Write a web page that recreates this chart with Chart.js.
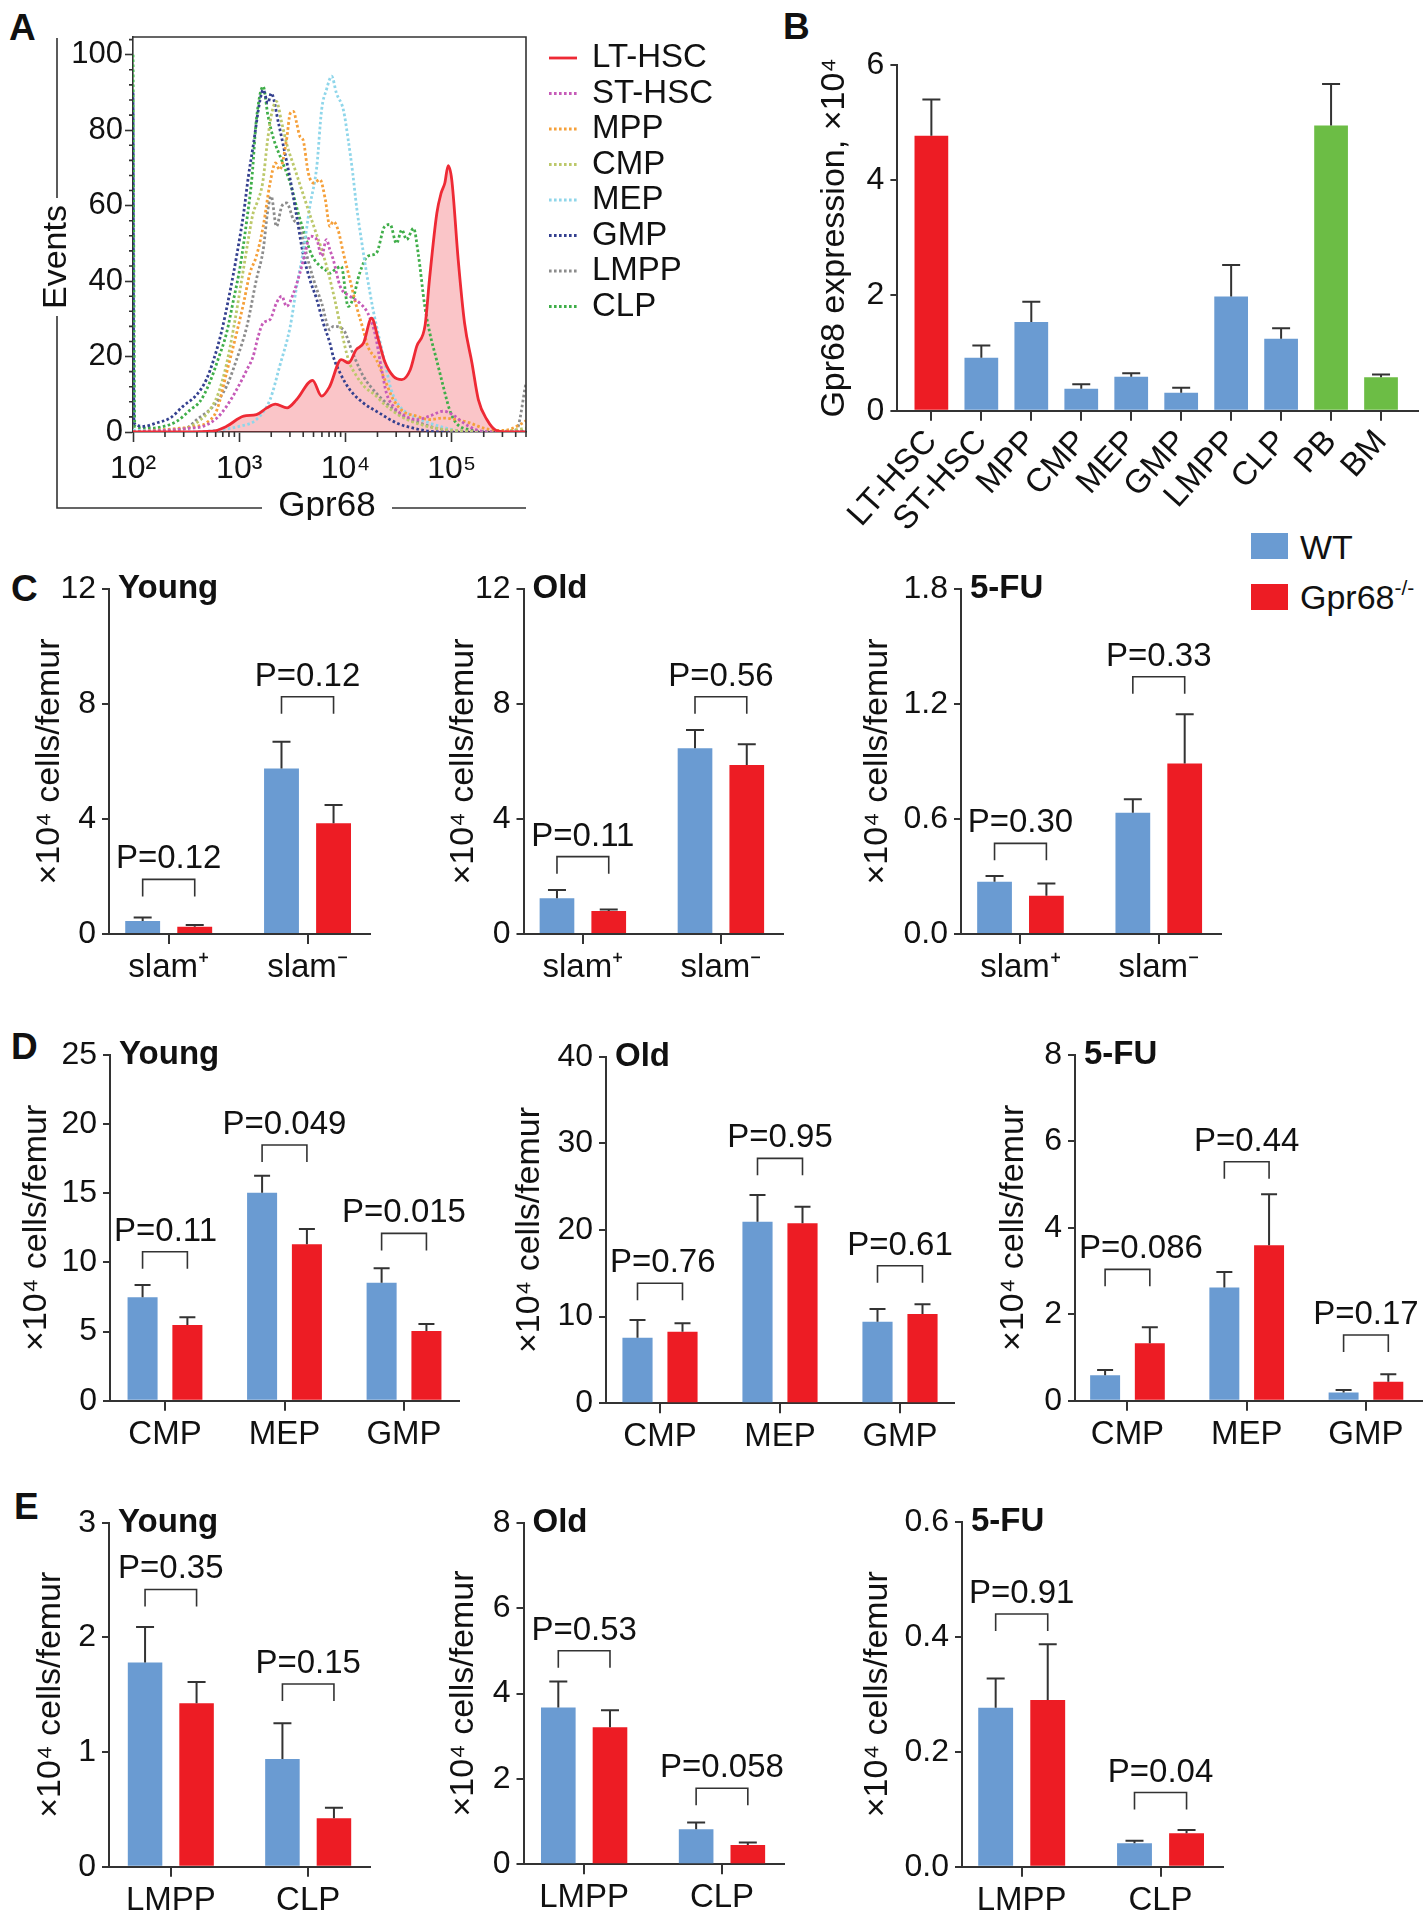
<!DOCTYPE html>
<html>
<head>
<meta charset="utf-8">
<script src="https://cdn.jsdelivr.net/npm/chart.js@4.4.0/dist/chart.umd.min.js"></script>
<style>
html, body { margin: 0; padding: 0; background: #fff; }
body { width: 1424px; height: 1920px; overflow: hidden; }
#fig { position: relative; width: 1424px; height: 1920px; font-family: "Liberation Sans", Arial, sans-serif; color: #111; }
#fig canvas { position: absolute; }
.lab { position: absolute; font-weight: bold; font-size: 37px; line-height: 37px; }
.leg { position: absolute; font-size: 34px; line-height: 34px; white-space: nowrap; }
.leg sup { font-size: 21px; vertical-align: 14px; line-height: 0; }
.sw { position: absolute; width: 37px; height: 26px; }
</style>
</head>
<body>
<div id="fig">
  <div class="lab" style="left:9px;top:9px">A</div>
  <div class="lab" style="left:783px;top:8px">B</div>
  <div class="lab" style="left:11px;top:570px">C</div>
  <div class="lab" style="left:11px;top:1028px">D</div>
  <div class="lab" style="left:14px;top:1488px">E</div>
  <div class="sw" style="left:1251px;top:533px;background:#6a9bd2"></div>
  <div class="leg" style="left:1300px;top:530px">WT</div>
  <div class="sw" style="left:1251px;top:584px;background:#ed1c24"></div>
  <div class="leg" style="left:1300px;top:580px">Gpr68<sup>-/-</sup></div>
</div>
<script>
// ---- panel A: flow histograms, [Gpr68 intensity, events] ----
const ltHSC = [[100,0],[316,0],[562,0.2],[760,1.5],[1100,4.2],[1450,4.6],[1820,6.4],[2190,7.4],[2820,6.4],[3470,8.6],
  [4900,13.7],[5960,9.5],[7080,12],[9120,19.2],[10700,18.3],[12600,21.8],[14800,23.6],[17600,30.2],[20400,24.5],[23400,18.7],
  [28200,14.8],[33900,13.9],[40700,16.5],[46800,22.7],[56200,28.4],[61700,40.4],[72400,58],[79400,63.3],[86100,66],[92500,70.6],
  [100000,66.9],[115000,45.7],[132000,28.9],[155000,18.3],[178000,8.6],[214000,3.3],[263000,0.4],[331000,0],[500000,0]];
const stHSC = [[100,0],[347,1],[457,1.5],[617,3.7],[759,6.8],[944,11.2],[1180,16.5],[1350,20],[1510,25.4],[1680,28.9],
  [1950,29.8],[2240,34.2],[2510,36],[2790,33.3],[3240,36.8],[3720,42.1],[4170,47.4],[4620,51.9],[5370,51],[5960,46.6],
  [6610,51],[7130,48.3],[7670,45.7],[8910,38.6],[11000,36],[13600,34.2],[16200,31.5],[18900,26.2],[21900,16.5],[24300,10.3],
  [28200,6.8],[34700,4.6],[46800,3.3],[61700,4.2],[83200,5.5],[102000,4.6],[129000,2.4],[170000,0.6],[251000,0],[500000,0]];
const mpp = [[100,0],[275,1],[398,1.5],[490,2.4],[617,5.9],[759,15.6],[944,26.2],[1100,34.2],[1260,42.1],[1450,46.6],
  [1680,54.5],[1950,66],[2190,71.3],[2400,69.5],[2790,77.5],[3020,84.5],[3240,85],[3470,81.9],[3720,78.4],[3980,77.5],
  [4470,68.6],[5010,66],[5750,66.9],[6460,61.6],[7130,54.5],[7670,55.8],[8510,53.6],[9550,47.4],[11000,40.4],[12700,33.3],
  [14700,27.1],[16200,22.7],[19500,19.2],[23400,13.9],[28200,8.6],[34700,5.5],[46800,4.2],[61700,3.3],[83200,3.7],[110000,3.3],
  [148000,2.4],[200000,1],[302000,0.4],[468000,2.4],[500000,3]];
const cmp = [[100,0],[316,1],[398,2.5],[501,5],[631,10],[759,18],[891,28],[1050,40],[1200,50],[1350,58],[1480,61],
  [1660,66],[1860,78],[2040,85],[2240,87.6],[2510,82],[2820,76],[3310,70],[3890,64],[4570,58],[5250,53],[6030,48],
  [6920,42],[7940,35],[9120,27],[10700,19],[12600,15],[15100,12],[18600,10],[24000,7],[31600,4.5],[44700,2.5],
  [70800,1],[126000,0.3],[251000,0],[500000,1]];
const mep = [[100,0.5],[316,0],[631,0.5],[1000,1.5],[1450,3.3],[1950,8.6],[2400,17.4],[3020,28],[3470,38.6],[3980,47.4],
  [4620,59.8],[5370,70.4],[5960,85.4],[6610,90.7],[7410,94.3],[8220,89.8],[9550,85.4],[10600,77.5],[11700,68.6],[12700,59.8],
  [14100,51],[15800,42.1],[18200,32.4],[20900,24.5],[24300,16.5],[26900,11.2],[32400,6.8],[43700,4.2],[61700,2.4],[89100,1],
  [129000,0.2],[200000,0],[500000,0]];
const gmp = [[100,90],[102,2.4],[126,1.5],[166,2.4],[224,3.7],[295,6.8],[398,9.9],[490,13.9],[575,19.2],[676,26.2],
  [813,36.8],[944,46.6],[1100,58],[1220,67.8],[1350,75.7],[1570,88],[1680,90.7],[1860,87.2],[2000,89.8],[2340,81.9],
  [2570,76.6],[3020,66.9],[3470,57.2],[3980,47.4],[4620,40.4],[5370,35.1],[6170,28.9],[7130,23.6],[7670,20],[8910,15.6],
  [11000,11.2],[14700,7.7],[20900,5],[30200,2.4],[43700,1],[61700,0.2],[100000,0],[500000,0]];
const lmpp = [[100,0],[316,1],[398,3.3],[569,6.8],[759,12.1],[944,19.2],[1180,28],[1450,40.4],[1680,48.3],[1860,58.9],
  [2000,62.5],[2240,54.5],[2510,59.8],[2790,60.7],[3240,56.3],[3720,54.5],[4270,47.4],[5010,40.4],[5960,34.2],[7130,27.1],
  [7670,28],[9550,27.1],[11700,20.9],[14700,14.8],[19500,10.3],[26300,6.8],[34700,4.2],[50100,2.4],[72400,1],[129000,0.2],
  [316000,0],[407000,0.6],[500000,13]];
const clp = [[100,100],[104,1.5],[145,1],[195,1.5],[257,2.8],[347,5.9],[427,8.1],[525,13],[631,19.2],[759,26.2],
  [871,34.2],[1020,43.9],[1180,56.3],[1320,67.8],[1450,82.8],[1680,91.6],[1860,84],[2090,78],[2510,72],[3020,66],
  [3590,58],[4170,52],[4790,47],[5750,44],[6460,43],[7130,42.1],[7940,43],[9120,43.9],[10600,33.3],[11700,35.1],
  [13600,42.1],[16200,46.6],[19500,47.4],[23400,54.5],[26300,55],[30200,50],[33900,53.6],[37600,51],[43700,54],[48300,47.4],
  [55800,33.3],[62200,26.2],[71900,19.2],[83200,12.1],[95500,5.9],[110000,2.4],[148000,0.6],[263000,0],[500000,0.3]];
const aXTicks = [100, 1000, 10000, 100000];
const aXLabels = ['10²', '10³', '10⁴', '10⁵'];
const aYTicks = [0, 20, 40, 60, 80, 100];

// ---- panel B ----
const bCats = ['LT-HSC', 'ST-HSC', 'MPP', 'CMP', 'MEP', 'GMP', 'LMPP', 'CLP', 'PB', 'BM'];
const bMean = [4.77, 0.92, 1.54, 0.38, 0.59, 0.31, 1.98, 1.25, 4.95, 0.58];
const bSem = [0.63, 0.21, 0.35, 0.08, 0.06, 0.09, 0.55, 0.18, 0.72, 0.05];
const bTicks = [0, 2, 4, 6];

// ---- panel C ----
const cCats = ['slam⁺', 'slam⁻'];
const cYoungWT = [0.45, 5.76], cYoungWTsem = [0.12, 0.93];
const cYoungKO = [0.25, 3.85], cYoungKOsem = [0.06, 0.64];
const cYoungBrk = [1.9, 8.25], cYoungP = ['P=0.12', 'P=0.12'];
const cOldWT = [1.24, 6.46], cOldWTsem = [0.29, 0.64];
const cOldKO = [0.8, 5.88], cOldKOsem = [0.05, 0.72];
const cOldBrk = [2.69, 8.25], cOldP = ['P=0.11', 'P=0.56'];
const cFuWT = [0.273, 0.633], cFuWTsem = [0.03, 0.07];
const cFuKO = [0.2, 0.89], cFuKOsem = [0.064, 0.256];
const cFuBrk = [0.473, 1.342], cFuP = ['P=0.30', 'P=0.33'];
const cTicks12 = [0, 4, 8, 12], cTicksFu = [0, 0.6, 1.2, 1.8];

// ---- panel D ----
const dCats = ['CMP', 'MEP', 'GMP'];
const dYoungWT = [7.48, 15.04, 8.53], dYoungWTsem = [0.89, 1.23, 1.04];
const dYoungKO = [5.47, 11.31, 5.04], dYoungKOsem = [0.56, 1.1, 0.51];
const dYoungBrk = [10.77, 18.49, 12.1], dYoungP = ['P=0.11', 'P=0.049', 'P=0.015'];
const dOldWT = [7.57, 20.95, 9.42], dOldWTsem = [2.03, 3.09, 1.46];
const dOldKO = [8.27, 20.77, 10.3], dOldKOsem = [0.96, 1.92, 1.12];
const dOldBrk = [13.85, 28.27, 15.88], dOldP = ['P=0.76', 'P=0.95', 'P=0.61'];
const dFuWT = [0.59, 2.62, 0.19], dFuWTsem = [0.12, 0.36, 0.06];
const dFuKO = [1.33, 3.6, 0.44], dFuKOsem = [0.37, 1.18, 0.17];
const dFuBrk = [3.04, 5.53, 1.52], dFuP = ['P=0.086', 'P=0.44', 'P=0.17'];
const dTicksY = [0, 5, 10, 15, 20, 25], dTicksO = [0, 10, 20, 30, 40], dTicksFu = [0, 2, 4, 6, 8];

// ---- panel E ----
const eCats = ['LMPP', 'CLP'];
const eYoungWT = [1.78, 0.94], eYoungWTsem = [0.31, 0.31];
const eYoungKO = [1.425, 0.422], eYoungKOsem = [0.185, 0.092];
const eYoungBrk = [2.418, 1.593], eYoungP = ['P=0.35', 'P=0.15'];
const eOldWT = [3.67, 0.82], eOldWTsem = [0.61, 0.16];
const eOldKO = [3.21, 0.45], eOldKOsem = [0.4, 0.06];
const eOldBrk = [5.0, 1.78], eOldP = ['P=0.53', 'P=0.058'];
const eFuWT = [0.2765, 0.0406], eFuWTsem = [0.051, 0.0045];
const eFuKO = [0.29, 0.058], eFuKOsem = [0.097, 0.006];
const eFuBrk = [0.4395, 0.129], eFuP = ['P=0.91', 'P=0.04'];
const eTicksY = [0, 1, 2, 3], eTicksO = [0, 2, 4, 6, 8], eTicksFu = [0, 0.2, 0.4, 0.6];

// ---- look ----
const FONT = '"Liberation Sans", Arial, Helvetica, sans-serif';
const AX = '#333';
const BLUE = '#6a9bd2', RED = '#ed1c24', GREEN = '#6cbd45';
const CELLS = '×10⁴ cells/femur';
Chart.defaults.font.family = FONT;
Chart.defaults.color = '#111';
Chart.defaults.animation = false;

// where each plot area sits on the page (px)
const LAY = {
  b:  { axisX: 897.4, right: 1418, top: 65, bottom: 410.7, titleX: 834.5, xmin: -0.68, xmax: 9.74 },
  cY: { axisX: 109, right: 370, top: 589, bottom: 934, titleX: 50, xmin: -0.43, xmax: 1.45 },
  cO: { axisX: 523.5, right: 783, top: 589, bottom: 934, titleX: 464, xmin: -0.43, xmax: 1.45 },
  cF: { axisX: 961, right: 1221, top: 589, bottom: 934, titleX: 878, xmin: -0.43, xmax: 1.45 },
  dY: { axisX: 110, right: 459, top: 1055, bottom: 1400.7, titleX: 37, xmin: -0.46, xmax: 2.46 },
  dO: { axisX: 606, right: 954, top: 1056.7, bottom: 1403.3, titleX: 530, xmin: -0.45, xmax: 2.45 },
  dF: { axisX: 1075, right: 1422, top: 1055, bottom: 1400.7, titleX: 1014, xmin: -0.44, xmax: 2.47 },
  eY: { axisX: 109, right: 370, top: 1522.7, bottom: 1866.7, titleX: 50.5, xmin: -0.45, xmax: 1.45 },
  eO: { axisX: 523.5, right: 784, top: 1522.7, bottom: 1864.3, titleX: 464, xmin: -0.44, xmax: 1.45 },
  eF: { axisX: 962, right: 1223, top: 1521.7, bottom: 1866.7, titleX: 878, xmin: -0.43, xmax: 1.45 }
};

function place(lay, padT, padR, xH) {
  const left = Math.round(lay.titleX - 21);
  const top = Math.round(lay.top - padT);
  const w = Math.ceil(lay.right - left + padR);
  const h = Math.ceil(lay.bottom - top + xH);
  const c = document.createElement('canvas');
  c.width = w; c.height = h;
  c.style.left = left + 'px'; c.style.top = top + 'px';
  document.getElementById('fig').appendChild(c);
  return { c, yW: lay.axisX - left, pT: lay.top - top, pR: w - (lay.right - left), xH: h - (lay.bottom - top) };
}

// error bars, brackets with P values, panel title
function extras(cfg) {
  return {
    id: 'extras',
    afterDatasetsDraw(chart) {
      const ctx = chart.ctx, ys = chart.scales.y, area = chart.chartArea;
      ctx.save();
      ctx.strokeStyle = AX; ctx.lineWidth = 2;
      chart.data.datasets.forEach((ds, di) => {
        chart.getDatasetMeta(di).data.forEach((bar, i) => {
          const y1 = ys.getPixelForValue(ds.data[i].y + ds.err[i]);
          ctx.beginPath();
          ctx.moveTo(bar.x, bar.y); ctx.lineTo(bar.x, y1);
          ctx.moveTo(bar.x - cfg.cap, y1); ctx.lineTo(bar.x + cfg.cap, y1);
          ctx.stroke();
        });
      });
      if (cfg.brk) {
        const m0 = chart.getDatasetMeta(0).data, m1 = chart.getDatasetMeta(1).data;
        ctx.lineWidth = 1.6;
        ctx.font = '33px ' + FONT; ctx.fillStyle = '#111';
        ctx.textAlign = 'center'; ctx.textBaseline = 'alphabetic';
        cfg.brk.forEach((v, i) => {
          const yb = ys.getPixelForValue(v), xa = m0[i].x, xb = m1[i].x;
          ctx.beginPath();
          ctx.moveTo(xa, yb + 17); ctx.lineTo(xa, yb); ctx.lineTo(xb, yb); ctx.lineTo(xb, yb + 17);
          ctx.stroke();
          // keep the label clear of the y axis
          const half = ctx.measureText(cfg.p[i]).width / 2;
          const cx = Math.max((xa + xb) / 2, area.left + 4 + half);
          ctx.fillText(cfg.p[i], cx, yb - 11);
        });
      }
      if (cfg.title) {
        ctx.font = 'bold 33px ' + FONT; ctx.fillStyle = '#111';
        ctx.textAlign = 'left'; ctx.textBaseline = 'middle';
        ctx.fillText(cfg.title, area.left + 9, area.top);
      }
      ctx.restore();
    }
  };
}

function barPanel(lay, cfg) {
  const P = place(lay, 50, 40, cfg.xH || 70);
  const axisGrid = (len) => ({ offset: false, drawOnChartArea: false, tickLength: len, tickWidth: 2, tickColor: AX, lineWidth: 2, color: AX });
  new Chart(P.c, {
    type: 'bar',
    data: {
      datasets: cfg.sets.map(s => ({
        label: s.label,
        data: s.mean.map((m, i) => ({ x: i, y: m })),
        err: s.sem,
        backgroundColor: s.color,
        borderWidth: 0,
        barPercentage: cfg.barPct || 0.67,
        categoryPercentage: cfg.catPct || 0.75
      }))
    },
    options: {
      responsive: false,
      layout: { padding: { left: 0, top: P.pT, right: P.pR, bottom: 0 } },
      plugins: { legend: { display: false }, tooltip: { enabled: false } },
      scales: {
        x: {
          type: 'linear', offset: false, min: lay.xmin, max: lay.xmax,
          afterBuildTicks: s => { s.ticks = cfg.cats.map((c, i) => ({ value: i })); },
          afterFit: s => { s.height = P.xH; },
          ticks: {
            autoSkip: false, minRotation: cfg.rot || 0, maxRotation: cfg.rot || 0,
            padding: cfg.xPad == null ? 4 : cfg.xPad, color: '#111', font: { size: cfg.xFont || 33 },
            callback: (v, i) => cfg.cats[i]
          },
          grid: axisGrid(10),
          border: { color: AX, width: 2 }
        },
        y: {
          min: 0, max: cfg.ticks[cfg.ticks.length - 1],
          afterBuildTicks: s => { s.ticks = cfg.ticks.map(v => ({ value: v })); },
          afterFit: s => { s.width = P.yW; },
          ticks: { padding: 6, color: '#111', font: { size: 32 }, callback: v => v.toFixed(cfg.dec || 0) },
          grid: axisGrid(7),
          border: { color: AX, width: 2 },
          title: { display: true, text: cfg.yTitle || CELLS, color: '#111', font: { size: 34 }, padding: 0 }
        }
      }
    },
    plugins: [extras(cfg)]
  });
}

function pair(wt, wtSem, ko, koSem) {
  return [
    { label: 'WT', mean: wt, sem: wtSem, color: BLUE },
    { label: 'Gpr68-/-', mean: ko, sem: koSem, color: RED }
  ];
}

// ---- panel B ----
barPanel(LAY.b, {
  cats: bCats, ticks: bTicks, yTitle: 'Gpr68 expression, ×10⁴', cap: 9,
  sets: [{ label: 'Gpr68', mean: bMean, sem: bSem,
           color: bCats.map(c => c === 'LT-HSC' ? RED : (c === 'PB' || c === 'BM') ? GREEN : BLUE) }],
  barPct: 0.75, catPct: 0.9, rot: 48, xPad: 2, xFont: 33, xH: 135
});

// ---- panel C ----
barPanel(LAY.cY, { cats: cCats, ticks: cTicks12, title: 'Young', cap: 9, brk: cYoungBrk, p: cYoungP,
  sets: pair(cYoungWT, cYoungWTsem, cYoungKO, cYoungKOsem) });
barPanel(LAY.cO, { cats: cCats, ticks: cTicks12, title: 'Old', cap: 9, brk: cOldBrk, p: cOldP,
  sets: pair(cOldWT, cOldWTsem, cOldKO, cOldKOsem) });
barPanel(LAY.cF, { cats: cCats, ticks: cTicksFu, dec: 1, title: '5-FU', cap: 9, brk: cFuBrk, p: cFuP,
  sets: pair(cFuWT, cFuWTsem, cFuKO, cFuKOsem) });

// ---- panel D ----
barPanel(LAY.dY, { cats: dCats, ticks: dTicksY, title: 'Young', cap: 8, brk: dYoungBrk, p: dYoungP,
  sets: pair(dYoungWT, dYoungWTsem, dYoungKO, dYoungKOsem) });
barPanel(LAY.dO, { cats: dCats, ticks: dTicksO, title: 'Old', cap: 8, brk: dOldBrk, p: dOldP,
  sets: pair(dOldWT, dOldWTsem, dOldKO, dOldKOsem) });
barPanel(LAY.dF, { cats: dCats, ticks: dTicksFu, title: '5-FU', cap: 8, brk: dFuBrk, p: dFuP,
  sets: pair(dFuWT, dFuWTsem, dFuKO, dFuKOsem) });

// ---- panel E ----
barPanel(LAY.eY, { cats: eCats, ticks: eTicksY, title: 'Young', cap: 9, brk: eYoungBrk, p: eYoungP,
  sets: pair(eYoungWT, eYoungWTsem, eYoungKO, eYoungKOsem) });
barPanel(LAY.eO, { cats: eCats, ticks: eTicksO, title: 'Old', cap: 9, brk: eOldBrk, p: eOldP,
  sets: pair(eOldWT, eOldWTsem, eOldKO, eOldKOsem) });
barPanel(LAY.eF, { cats: eCats, ticks: eTicksFu, dec: 1, title: '5-FU', cap: 9, brk: eFuBrk, p: eFuP,
  sets: pair(eFuWT, eFuWTsem, eFuKO, eFuKOsem) });

// ---- panel A ----
const histFrame = {
  id: 'histFrame',
  afterDraw(chart) {
    const { ctx, chartArea: a, scales: { x, y } } = chart;
    ctx.save();
    ctx.strokeStyle = AX; ctx.lineWidth = 1.6;
    ctx.beginPath();
    ctx.moveTo(a.left, a.top); ctx.lineTo(a.right, a.top); ctx.lineTo(a.right, a.bottom);
    // minor ticks
    aXTicks.forEach(d => {
      for (let k = 2; k <= 9; k++) {
        if (k * d > x.max) break;
        const px = x.getPixelForValue(k * d);
        ctx.moveTo(px, a.bottom); ctx.lineTo(px, a.bottom + 5);
      }
    });
    for (let v = 4; v < y.max; v += 4) {
      if (v % 20 === 0) continue;
      const py = y.getPixelForValue(v);
      ctx.moveTo(a.left - 4, py); ctx.lineTo(a.left, py);
    }
    // outer frame with room for axis names
    ctx.moveTo(57, 38); ctx.lineTo(57, 198);
    ctx.moveTo(57, 316); ctx.lineTo(57, 508); ctx.lineTo(262, 508);
    ctx.moveTo(392, 508); ctx.lineTo(a.right, 508);
    ctx.stroke();

    ctx.fillStyle = '#111'; ctx.textAlign = 'center'; ctx.textBaseline = 'middle';
    ctx.font = '35px ' + FONT;
    ctx.fillText('Gpr68', 327, 506);
    ctx.save();
    ctx.translate(57, 257); ctx.rotate(-Math.PI / 2);
    ctx.font = '34px ' + FONT;
    ctx.fillText('Events', 0, 0);
    ctx.restore();

    // legend
    ctx.font = '33px ' + FONT; ctx.textAlign = 'left';
    chart.data.datasets.forEach((ds, i) => {
      const yy = 58 + i * 35.5;
      ctx.strokeStyle = ds.borderColor; ctx.lineWidth = ds.borderWidth;
      ctx.setLineDash(ds.borderDash || []);
      ctx.beginPath(); ctx.moveTo(549, yy); ctx.lineTo(577, yy); ctx.stroke();
      ctx.setLineDash([]);
      ctx.fillText(ds.label, 592, yy);
    });
    ctx.restore();
  }
};

const aCanvas = document.createElement('canvas');
aCanvas.width = 720; aCanvas.height = 520;
aCanvas.style.left = '0px'; aCanvas.style.top = '0px';
document.getElementById('fig').appendChild(aCanvas);

const dotted = (label, data, color) => ({
  label, data, borderColor: color, borderWidth: 2.8, borderDash: [2.6, 2.4],
  pointRadius: 0, fill: false, cubicInterpolationMode: 'monotone'
});

new Chart(aCanvas, {
  type: 'line',
  data: {
    datasets: [
      { label: 'LT-HSC', data: ltHSC, borderColor: '#ee2a35', borderWidth: 2.8,
        backgroundColor: 'rgba(238,42,53,0.27)', fill: 'origin', pointRadius: 0, cubicInterpolationMode: 'monotone' },
      dotted('ST-HSC', stHSC, '#c65bb8'),
      dotted('MPP', mpp, '#f5a03a'),
      dotted('CMP', cmp, '#bcc86a'),
      dotted('MEP', mep, '#8fd6ea'),
      dotted('GMP', gmp, '#34408f'),
      dotted('LMPP', lmpp, '#8c8c8c'),
      dotted('CLP', clp, '#3fae49')
    ]
  },
  options: {
    responsive: false,
    layout: { padding: { left: 0, top: 37, right: 194, bottom: 0 } },
    plugins: { legend: { display: false }, tooltip: { enabled: false }, filler: { drawTime: 'beforeDatasetsDraw' } },
    scales: {
      x: {
        type: 'logarithmic', min: 100, max: 500000,
        afterBuildTicks: s => { s.ticks = aXTicks.map(v => ({ value: v })); },
        afterFit: s => { s.height = 88; },
        ticks: { autoSkip: false, maxRotation: 0, padding: 8, color: '#111', font: { size: 32 }, callback: (v, i) => aXLabels[i] },
        grid: { drawOnChartArea: false, tickLength: 10, tickWidth: 1.6, tickColor: AX, color: AX },
        border: { color: AX, width: 1.6 }
      },
      y: {
        min: 0, max: 104.7,
        afterBuildTicks: s => { s.ticks = aYTicks.map(v => ({ value: v })); },
        afterFit: s => { s.width = 133; },
        ticks: { padding: 2, color: '#111', font: { size: 31 } },
        grid: { drawOnChartArea: false, tickLength: 8, tickWidth: 1.6, tickColor: AX, color: AX },
        border: { color: AX, width: 1.6 }
      }
    }
  },
  plugins: [histFrame]
});
</script>
</body>
</html>
